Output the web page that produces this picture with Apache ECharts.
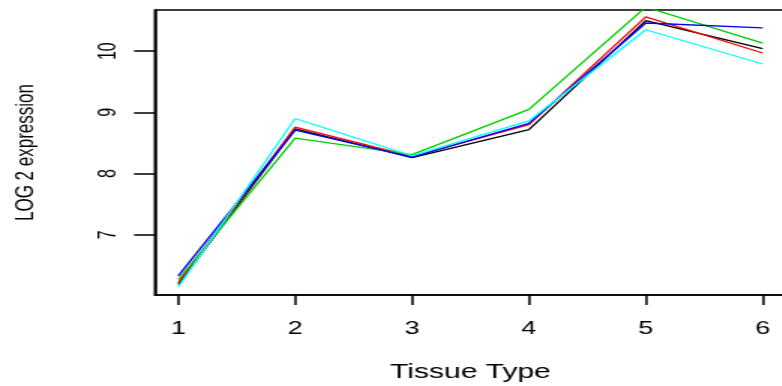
<!DOCTYPE html>
<html>
<head>
<meta charset="utf-8">
<script src="https://cdn.jsdelivr.net/npm/echarts@6/dist/echarts.min.js"></script>
<style>
  html, body { margin: 0; padding: 0; background: #fff; overflow: hidden; width: 782px; height: 386px; }
  /* the plot is laid out narrow and widened horizontally */
  #chart { width: 530px; height: 386px; transform: scaleX(1.5); transform-origin: 0 0; }
</style>
</head>
<body>
<div id="chart"></div>
<script>
// tissue types on the x axis
const tissueTypes = [1, 2, 3, 4, 5, 6];
const yTicks = [7, 8, 9, 10];

// log2 expression per probe, one value per tissue type
const probeBlack = [6.19, 8.73, 8.26, 8.72, 10.50, 10.04];
const probeRed   = [6.22, 8.76, 8.28, 8.80, 10.56, 9.97];
const probeGreen = [6.27, 8.58, 8.31, 9.05, 10.72, 10.13];
const probeBlue  = [6.33, 8.71, 8.27, 8.82, 10.46, 10.38];
const probeCyan  = [6.15, 8.90, 8.29, 8.86, 10.35, 9.79];

const seriesDefs = [
  { name: 'black', values: probeBlack, color: '#000000' },
  { name: 'red',   values: probeRed,   color: '#ff0000' },
  { name: 'green', values: probeGreen, color: '#00cd00' },
  { name: 'blue',  values: probeBlue,  color: '#0000ff' },
  { name: 'cyan',  values: probeCyan,  color: '#00ffff' }
];

// axis limits: range of the first probe, padded by 4% each side; x padded likewise
const yLo = Math.min(...probeBlack), yHi = Math.max(...probeBlack);
const yPad = (yHi - yLo) * 0.04;
const xPad = (tissueTypes[tissueTypes.length - 1] - tissueTypes[0]) * 0.04;

const font = 'Liberation Sans, Arial, sans-serif';

const chart = echarts.init(document.getElementById('chart'));
chart.setOption({
  backgroundColor: '#ffffff',
  animation: false,
  grid: {
    left: 103.3, top: 10, width: 420.7, height: 285,
    show: true, borderColor: '#000', borderWidth: 1.5,
    containLabel: false, outerBoundsMode: 'none'
  },
  xAxis: {
    type: 'value',
    min: tissueTypes[0] - xPad,
    max: tissueTypes[tissueTypes.length - 1] + xPad,
    name: 'Tissue Type',
    nameLocation: 'middle',
    nameGap: 67,
    nameTextStyle: { color: '#000', fontFamily: font, fontSize: 20 },
    axisLine: { show: true, lineStyle: { color: '#000', width: 1.5 } },
    axisTick: { show: true, customValues: tissueTypes, length: 10, lineStyle: { color: '#000', width: 1.5 } },
    axisLabel: { customValues: tissueTypes, margin: 25, color: '#000', fontFamily: font, fontSize: 18 },
    splitLine: { show: false }
  },
  yAxis: {
    type: 'value',
    min: yLo - yPad,
    max: yHi + yPad,
    name: 'LOG 2 expression',
    nameLocation: 'middle',
    nameRotate: 90,
    nameGap: 77,
    nameTextStyle: { color: '#000', fontFamily: font, fontSize: 17 },
    axisLine: { show: true, lineStyle: { color: '#000', width: 1.5 } },
    axisTick: { show: true, customValues: yTicks, length: 14, lineStyle: { color: '#000', width: 1.5 } },
    axisLabel: { customValues: yTicks, rotate: 90, margin: 23, color: '#000', fontFamily: font, fontSize: 16 },
    splitLine: { show: false }
  },
  series: seriesDefs.map(s => ({
    name: s.name,
    type: 'line',
    data: tissueTypes.map((t, i) => [t, s.values[i]]),
    showSymbol: false,
    symbol: 'none',
    clip: true,
    lineStyle: { color: s.color, width: 1.3 },
    emphasis: { disabled: true }
  }))
});
</script>
</body>
</html>
